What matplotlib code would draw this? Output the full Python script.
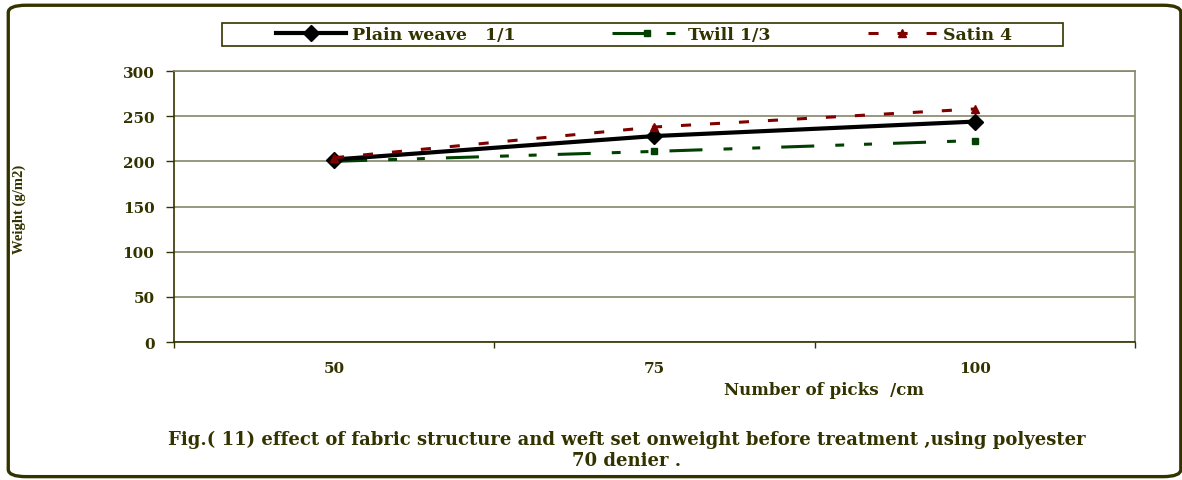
import matplotlib.pyplot as plt
from matplotlib.patches import FancyBboxPatch, Rectangle

# weight of fabric (g/m2) against weft set
picks = ["50", "75", "100"]
plain = [202, 228, 244]
twill = [200, 211, 223]
satin = [204, 238, 258]
y_ticks = [0, 50, 100, 150, 200, 250, 300]

txt_col = "#333300"
grid_col = "#86866a"
font = "DejaVu Serif"

fig = plt.figure(figsize=(11.82, 4.81), dpi=100)
ax = fig.add_axes([0.1472, 0.2869, 0.8130, 0.5634])

x = range(len(picks))
ax.plot(x, plain, color="black", lw=3, marker="D", ms=8, label="Plain weave   1/1", zorder=4)
ax.plot(x, twill, color="#004000", lw=2.2, marker="s", ms=5,
        dashes=(10.8, 6.9, 2.9, 6.5, 2.6, 6.9), label="Twill 1/3", zorder=3)
ax.plot(x, satin, color="#800000", lw=2.2, marker="^", ms=6,
        dashes=(3.3, 6.2), label="Satin 4", zorder=5)

ax.set_xlim(-0.5, 2.5)
ax.set_ylim(0, 300)
ax.set_yticks(y_ticks)
ax.set_xticks(list(x))
ax.set_xticklabels(picks)
ax.set_xticks([-0.5, 0.5, 1.5, 2.5], minor=True)
ax.tick_params(axis="x", which="major", length=0, pad=14)
ax.tick_params(axis="x", which="minor", length=4, direction="out", color=txt_col, width=1)
ax.tick_params(axis="y", length=6, direction="out", color=txt_col, width=1, pad=8)
for lab in ax.get_xticklabels() + ax.get_yticklabels():
    lab.set_fontfamily(font)
    lab.set_fontweight("bold")
    lab.set_fontsize(11)
    lab.set_color(txt_col)

ax.grid(axis="y", color=grid_col, lw=1.2)
ax.set_axisbelow(True)
for side in ["left", "bottom"]:
    ax.spines[side].set_color(txt_col)
    ax.spines[side].set_linewidth(1.2)
for side in ["top", "right"]:
    ax.spines[side].set_color(grid_col)
    ax.spines[side].set_linewidth(1.2)

ax.set_xlabel("Number of picks  /cm", fontfamily=font, fontweight="bold", fontsize=12,
              color=txt_col)
ax.xaxis.set_label_coords(0.676, -0.145)
fig.text(0.016, 0.565, "Weight (g/m2)", rotation=90, ha="center", va="center",
         fontfamily="Liberation Serif", fontweight="bold", fontsize=10.5, color=txt_col)

# legend box spans wider than its entries
fig.patches.append(Rectangle((0.1878, 0.9023), 0.7115, 0.0478, transform=fig.transFigure,
                             fill=False, edgecolor=txt_col, lw=1.2))
leg = fig.legend(loc="center", bbox_to_anchor=(0.545, 0.926), ncol=3,
                 handlelength=4.0, handletextpad=0.35, columnspacing=5.6,
                 frameon=False, prop={"family": font, "weight": "bold", "size": 12.5})
for t in leg.get_texts():
    t.set_color(txt_col)

fig.text(0.53, 0.064,
         "Fig.( 11) effect of fabric structure and weft set onweight before treatment ,using polyester\n70 denier .",
         ha="center", va="center", fontfamily=font, fontweight="bold", fontsize=13,
         color=txt_col, linespacing=1.2)

# rounded outer frame
frame = FancyBboxPatch((0.007, 0.007), 0.992, 0.980, transform=fig.transFigure,
                       boxstyle="round,pad=0,rounding_size=0.015",
                       fill=False, edgecolor=txt_col, lw=2.4, zorder=0)
fig.patches.append(frame)

fig.savefig("out.png", dpi=100)
